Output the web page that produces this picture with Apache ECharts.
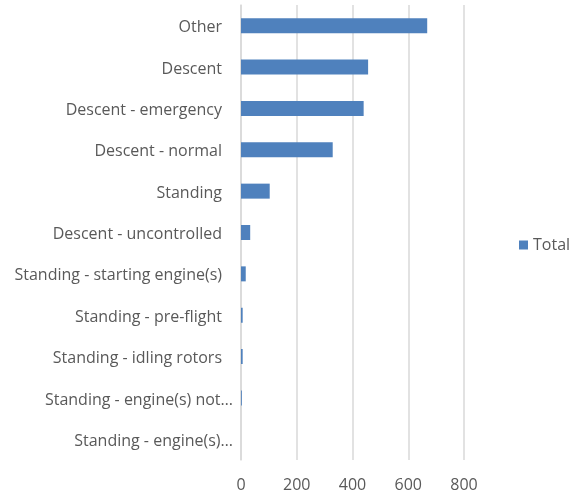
<!DOCTYPE html>
<html>
<head>
<meta charset="utf-8">
<script src="https://cdn.jsdelivr.net/npm/echarts@6/dist/echarts.min.js"></script>
<style>
  html, body { margin: 0; padding: 0; background: #fff; }
  #chart { width: 573px; height: 492px; }
</style>
</head>
<body>
<div id="chart"></div>
<script>
// Phases of flight, top to bottom
const categories = [
  'Other',
  'Descent',
  'Descent - emergency',
  'Descent - normal',
  'Standing',
  'Descent - uncontrolled',
  'Standing - starting engine(s)',
  'Standing - pre-flight',
  'Standing - idling rotors',
  'Standing - engine(s) not…',
  'Standing - engine(s)…'
];
const totals = [668, 456, 440, 329, 103, 33, 17, 6, 6, 3, 0];
const xTicks = [0, 200, 400, 600, 800];
const seriesName = 'Total';

const font = '"Open Sans", sans-serif';
const chart = echarts.init(document.getElementById('chart'));
chart.setOption({
  animation: false,
  textStyle: { fontFamily: font },
  grid: {
    left: 241, right: 109, top: 5, bottom: 32,
    containLabel: false,
    outerBoundsMode: 'none'
  },
  legend: {
    data: [seriesName],
    orient: 'vertical',
    left: 514,
    top: 232,
    itemWidth: 9,
    itemHeight: 9,
    itemGap: 5,
    icon: 'rect',
    textStyle: { fontFamily: font, fontSize: 16, color: '#595959' }
  },
  xAxis: {
    type: 'value',
    min: xTicks[0],
    max: xTicks[xTicks.length - 1],
    interval: xTicks[1] - xTicks[0],
    axisLine: { show: false },
    axisTick: { show: false },
    splitLine: { lineStyle: { color: '#d9d9d9', width: 1.5 } },
    axisLabel: { margin: 17, fontSize: 16, color: '#595959', fontFamily: font }
  },
  yAxis: {
    type: 'category',
    data: categories,
    inverse: true,
    axisLine: { show: true, lineStyle: { color: '#d9d9d9', width: 1.5 } },
    axisTick: { show: false },
    axisLabel: {
      margin: 8,
      fontSize: 16,
      color: '#595959',
      fontFamily: font,
      // shortened names sit closer to the axis than full ones
      formatter: (v) => v.endsWith('…') ? '{cut|' + v + '}' : '{full|' + v + '}',
      rich: {
        full: { fontSize: 16, color: '#595959', fontFamily: font, padding: [4, 11, 0, 0] },
        cut: { fontSize: 16, color: '#595959', fontFamily: font, padding: [4, 0, 0, 0] }
      }
    }
  },
  series: [{
    name: seriesName,
    type: 'bar',
    data: totals,
    barWidth: 15,
    itemStyle: { color: '#4f81bd' }
  }]
});
</script>
</body>
</html>
